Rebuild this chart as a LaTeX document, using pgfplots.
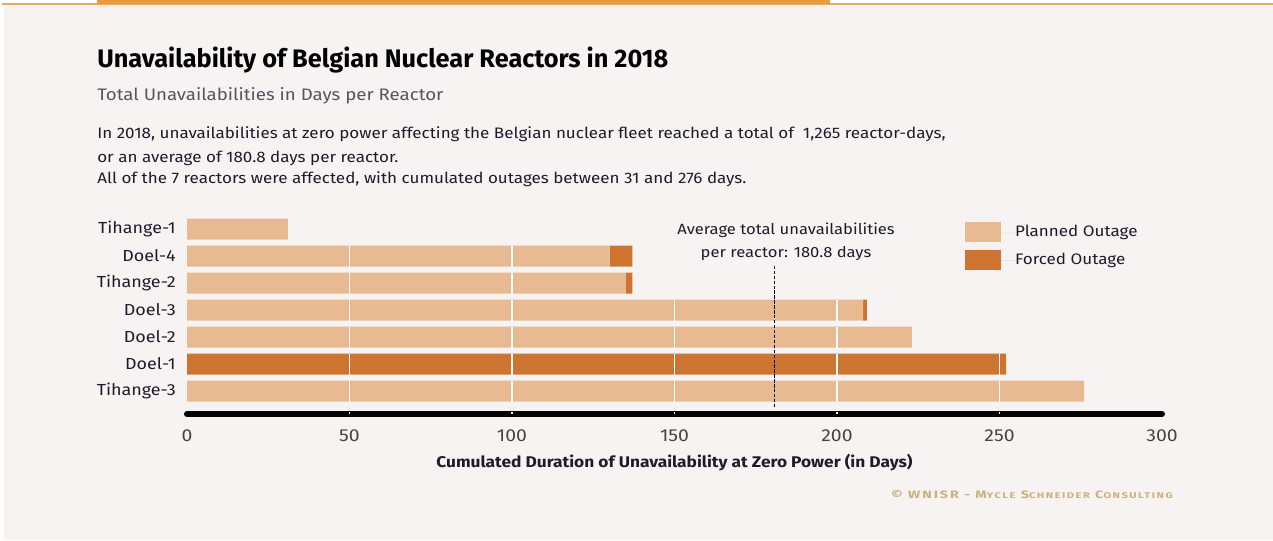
\documentclass[border=0pt]{standalone}
\usepackage{fontspec}
\setmainfont{Fira Sans}[FakeStretch=1.12]
\newfontfamily\titlefont{Fira Sans}
\usepackage{pgfplots}
\pgfplotsset{compat=1.18}
\definecolor{bg}{HTML}{F7F3F2}
\definecolor{planned}{HTML}{E8BA92}
\definecolor{forced}{HTML}{CD7430}
\definecolor{topbar}{HTML}{E89A45}
\definecolor{ink}{HTML}{1C1C2A}
\definecolor{tickc}{HTML}{444444}
\definecolor{gold}{HTML}{C8B282}
\newfontfamily\cpfont{Fira Sans}[LetterSpace=18,FakeStretch=1.35]
\newcommand\sm[1]{{\fontsize{6.2}{7}\selectfont #1}}
\pgfplotsset{frame/.style={at={(140.25pt,94.5pt)},anchor=south west,scale only axis,
 width=731.25pt,height=148.8pt,xmin=0,xmax=300,ymin=-0.85,ymax=6.5}}

\begin{document}
\begin{tikzpicture}[x=0.75pt,y=0.75pt]
% canvas 1273 x 540, y counted from the bottom
\fill[white] (0,0) rectangle (1273,540);
\fill[bg] (4,0) rectangle (1273,536);
\fill[topbar!85] (2,535) rectangle (1273,536.5);
\fill[topbar] (97,536) rectangle (830,540);

\node[anchor=base west,inner sep=0,text=black,font=\titlefont\fontsize{19}{23}\selectfont\bfseries] at (97,472) {Unavailability of Belgian Nuclear Reactors in 2018};
\node[anchor=base west,inner sep=0,text=ink!75,font=\fontsize{12.5}{15}\selectfont] at (97,439) {Total Unavailabilities in Days per Reactor};
\begin{scope}[every node/.style={anchor=base west,inner sep=0,text=ink,font=\fontsize{11.4}{14}\selectfont}]
\node at (97,401) {In 2018, unavailabilities at zero power affecting the Belgian nuclear fleet reached a total of \ 1,265 reactor-days,};
\node at (97,378) {or an average of 180.8 days per reactor.};
\node at (97,357) {All of the 7 reactors were affected, with cumulated outages between 31 and 276 days.};
\end{scope}

\begin{axis}[frame,
 xbar stacked,bar width=15.75pt,
 axis lines*=left,
 x axis line style={line width=4.5pt,line cap=round,-},
 y axis line style={draw=none},
 major tick length=0pt,
 xtick={0,50,...,300},
 ytick={0,...,6},
 yticklabels={Tihange-3,Doel-1,Doel-2,Doel-3,Tihange-2,Doel-4,Tihange-1},
 yticklabel style={anchor=east,inner sep=0,xshift=-8.25pt,text=ink,font=\fontsize{12}{14}\selectfont},
 xticklabel style={anchor=base,yshift=-20.25pt,text=tickc,font=\fontsize{13}{15}\selectfont},
 /pgf/number format/assume math mode=true,
 xlabel={Cumulated Duration of Unavailability at Zero Power (in Days)},
 xlabel style={at={(axis description cs:0.5,0)},anchor=base,yshift=-39.75pt,text=ink,font=\fontsize{11.6}{14}\selectfont\bfseries},
 legend style={at={(0.798,0.9675)},anchor=north west,draw=none,fill=none,inner sep=0,outer sep=0,
   row sep=6pt,font=\fontsize{11.4}{14}\selectfont,text=ink,
   nodes={inner sep=0},cells={anchor=west}},
 legend image code/.code={\fill[#1] (0pt,-7.5pt) rectangle (27pt,7.5pt); \path (0pt,0pt) -- (37.5pt,0pt);},
]
\addplot[fill=planned,draw=none] coordinates {(276,0) (0,1) (223,2) (208,3) (135,4) (130,5) (31,6)};
\addlegendentry{Planned Outage}
\addplot[fill=forced,draw=none] coordinates {(0,0) (252,1) (0,2) (1.2,3) (2,4) (7,5) (0,6)};
\addlegendentry{Forced Outage}
\end{axis}

% overlay: white grid lines across the bars, average marker
\begin{axis}[frame,axis lines=none,ticks=none,clip=false]
\pgfplotsextra{
 \foreach \r/\t in {0/276,1/252,2/223,3/209,4/137,5/137,6/31}{
  \foreach \g in {50,100,150,200,250}{
   \ifdim\g pt<\t pt
    \draw[white,line width=1pt] (axis cs:\g,{\r-0.39}) -- (axis cs:\g,{\r+0.39});
   \fi}}
 \foreach \g in {50,100,150,200,250}{
  \draw[white,line width=0.8pt] (axis cs:\g,-0.85) -- (axis cs:\g,-0.79);}
 \draw[black,line width=1pt,dash pattern=on 2.5pt off 1.2pt] (axis cs:180.8,-0.6) -- (axis cs:180.8,4.67);
 \node[anchor=base,inner sep=0,text=ink,font=\fontsize{11.1}{14}\selectfont] at (axis cs:184.3,5.80) {Average total unavailabilities};
 \node[anchor=base,inner sep=0,text=ink,font=\fontsize{11.1}{14}\selectfont] at (axis cs:184.3,4.94) {per reactor: 180.8 days};
}
\end{axis}

\node[anchor=base east,inner sep=0,text=gold,font=\cpfont\bfseries\fontsize{8}{9}\selectfont] at (1173,42) {© WNISR - M\sm{YCLE} S\sm{CHNEIDER} C\sm{ONSULTING}};
\end{tikzpicture}
\end{document}
